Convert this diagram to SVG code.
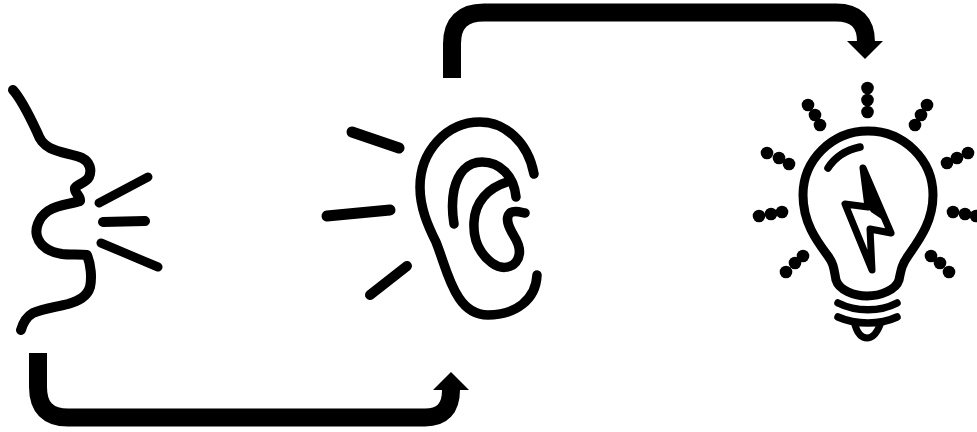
<svg xmlns="http://www.w3.org/2000/svg" width="977" height="432" viewBox="0 0 977 432">
<style>
.l{fill:none;stroke:#000;stroke-linecap:round;stroke-linejoin:round}
.a{fill:none;stroke:#000;stroke-width:18}
.h{fill:#000;stroke:none}
circle{fill:#000}
</style>
<rect width="977" height="432" fill="#fff"/>
<g id="connectors">
<path class="a" d="M452 78V44Q452 12.500 484 12.500H836Q866 12.500 866 42"/>
<polygon class="h" points="847,41 883,41 865,59"/>
<path class="a" d="M38 353V387Q38 417.500 68 417.500H425Q451 417.500 451 390"/>
<polygon class="h" points="433,390 469,390 451,372"/>
</g>
<g id="speaker">
<path class="l" stroke-width="10" d="M13 90C22 100 30 117 37 132C40 140 43 144 50 148C60 153 72 154 82 158C90 162 92 170 89 177C86 183 77 184 75 188C74 193 81 196 80 201C72 204 58 204 48 211C38 218 35 229 37 236C40 247 50 252 62 254C70 255 80 254 87 255C91 265 92 278 90 287C87 297 78 301 68 304C56 307 42 309 33 313C26 317 23 323 21 330"/>
<path class="l" stroke-width="9" d="M99 203L148 177"/>
<path class="l" stroke-width="10" d="M103 222L145 221"/>
<path class="l" stroke-width="9" d="M101 243L158 267"/>
</g>
<g id="listener">
<path class="l" stroke-width="11" d="M352 132L399 148"/>
<path class="l" stroke-width="11" d="M327 216L390 210"/>
<path class="l" stroke-width="10" d="M370 295L407 266"/>
<path class="l" stroke-width="9.500" d="M534 174C528 142 505 122 480 122C446 122 420 152 420 187C420 208 428 226 436 242C444 262 448 282 459 298C467 310 477 315 488 315C515 315 536 300 537 275"/>
<path class="l" stroke-width="9.500" d="M454 224C452 212 452 200 454 190C458 172 468 162 482 162C500 162 514 176 516 197"/>
<path class="l" stroke-width="9.500" d="M507 182C488 188 475 202 474 222C473 240 480 254 492 263C500 269 510 269 516 262C522 254 519 244 514 236C508 226 505 218 510 213C514 210 520 212 525 213"/>
</g>
<g id="idea">
<path class="l" stroke-width="9" d="M836 280C834 270 834 264 828 256C816 240 803 222 803 195C803 160 832 131 868 131C904 131 933 160 933 195C933 222 919 240 908 256C902 264 901 270 899 280C896 290 880 296 867 296C854 296 839 290 836 280Z"/>
<path class="l" stroke-width="7.500" d="M828 168C835 157 846 150 860 147"/>
<polygon class="l" stroke-width="7" points="863,168 891,233 870,229 872,270 845,204 868,207"/>
<polygon class="h" points="863,168 886,222 871,212 868,207"/>
<path class="l" stroke-width="7.500" d="M838 303C856 312 880 312 897 303"/>
<path class="l" stroke-width="7.500" d="M838 317C856 325 880 325 897 317"/>
<path class="l" stroke-width="7" d="M855 325C858 335 862 338 867 338C872 338 876 335 880 325"/>
<circle cx="867.500" cy="88" r="6.300"/><circle cx="867.500" cy="100" r="6.300"/><circle cx="867.500" cy="112" r="6.300"/>
<circle cx="808" cy="105" r="6.300"/><circle cx="815" cy="115" r="6.300"/><circle cx="820" cy="125" r="6.300"/>
<circle cx="927" cy="105" r="6.300"/><circle cx="921" cy="115" r="6.300"/><circle cx="915" cy="125" r="6.300"/>
<circle cx="767" cy="153" r="6.300"/><circle cx="779" cy="158" r="6.300"/><circle cx="789" cy="164" r="6.300"/>
<circle cx="968" cy="153" r="6.300"/><circle cx="957" cy="158" r="6.300"/><circle cx="947" cy="163" r="6.300"/>
<circle cx="759" cy="216" r="6.300"/><circle cx="771" cy="214" r="6.300"/><circle cx="782" cy="212" r="6.300"/>
<circle cx="953" cy="212" r="6.300"/><circle cx="965" cy="214" r="6.300"/><circle cx="976" cy="216" r="6.300"/>
<circle cx="786" cy="272" r="6.300"/><circle cx="795" cy="263" r="6.300"/><circle cx="803" cy="256" r="6.300"/>
<circle cx="931" cy="256" r="6.300"/><circle cx="940" cy="263" r="6.300"/><circle cx="949" cy="272" r="6.300"/>
</g>
</svg>
